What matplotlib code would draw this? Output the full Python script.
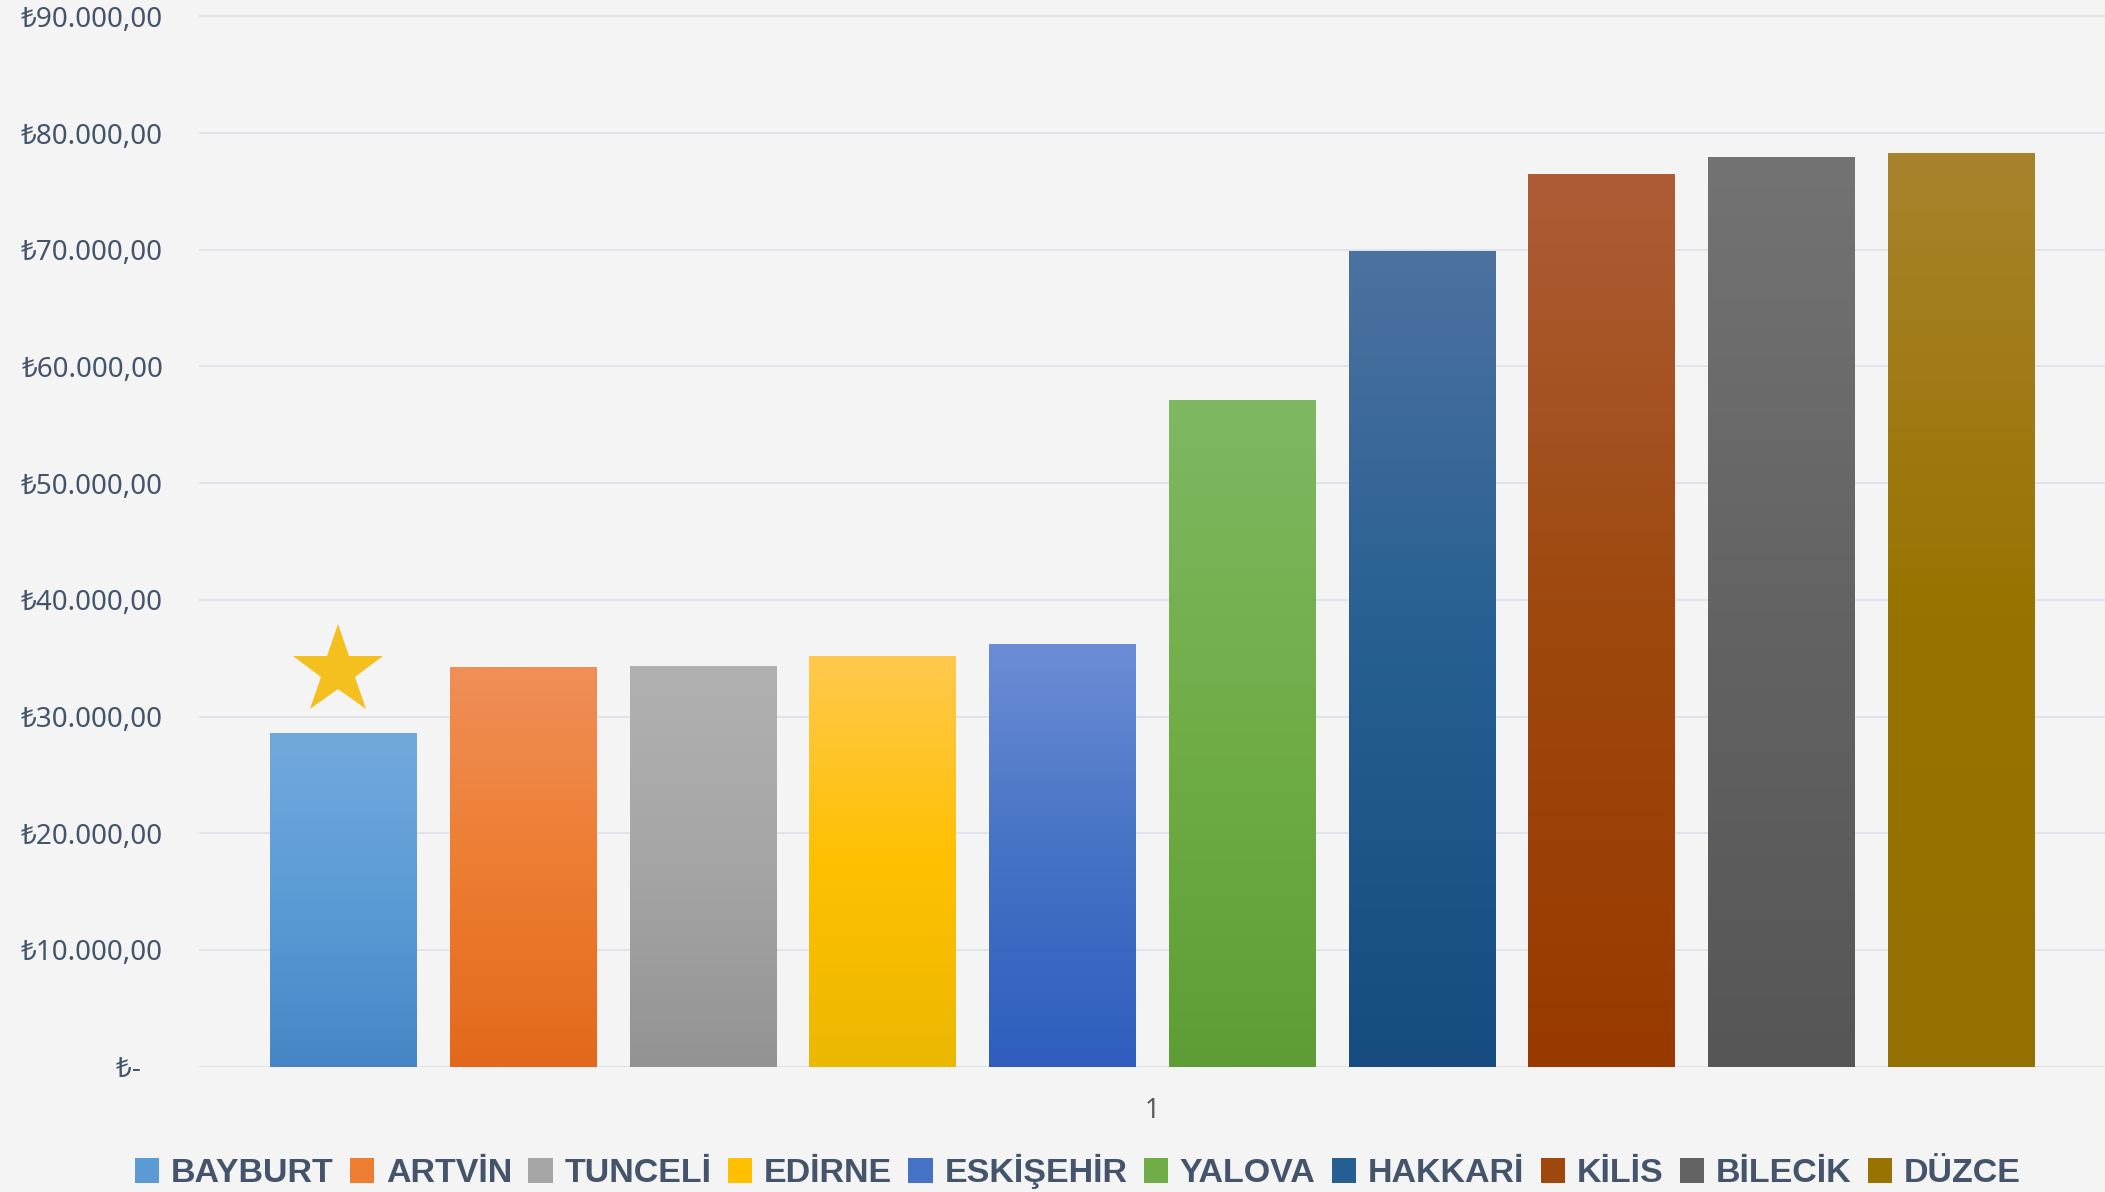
import matplotlib.pyplot as plt
import numpy as np
from matplotlib.colors import to_rgb
from matplotlib.font_manager import FontProperties

# data
cities = ['BAYBURT', 'ARTVİN', 'TUNCELİ', 'EDİRNE', 'ESKİŞEHİR',
          'YALOVA', 'HAKKARİ', 'KİLİS', 'BİLECİK', 'DÜZCE']
amounts = [28600, 34200, 34300, 35150, 36200, 57100, 69900, 76450, 77950, 78300]
category = ['1']
y_ticks = np.arange(0, 90001, 10000)

# gradient colours (top, base, bottom) per series
top_colors = ['#72A9DD', '#F08F58', '#B1B1B1', '#FFC94E', '#6C8DD6',
              '#7EB862', '#4C72A0', '#AD5C36', '#737373', '#A8832C']
base_colors = ['#5B9BD5', '#ED7D31', '#A5A5A5', '#FFC000', '#4472C4',
               '#70AD47', '#255E91', '#9E480E', '#636363', '#997300']
bottom_colors = ['#4686C6', '#E2691C', '#939393', '#EBB800', '#2F5DBE',
                 '#5E9D35', '#164C80', '#983A00', '#565656', '#937000']

bg = '#F4F4F4'
text_col = '#44546A'

fig = plt.figure(figsize=(21.05, 11.92), dpi=100, facecolor=bg)
ax = fig.add_axes([199 / 2105, 1 - 1066.7 / 1192, 1906 / 2105, 1066.7 / 1192])
ax.set_facecolor(bg)

n = len(cities)
pos = np.arange(n) - (n - 1) / 2
bar_w = 0.8125
bars = ax.bar(pos, amounts, width=bar_w, color=base_colors, label=cities, zorder=2)


def gradient(top, base, bottom, steps=256):
    t = np.linspace(0, 1, steps)[:, None]
    lo = np.array(to_rgb(bottom))
    mid = np.array(to_rgb(base))
    hi = np.array(to_rgb(top))
    out = np.where(t < 0.5, lo + (mid - lo) * (t / 0.5),
                   mid + (hi - mid) * ((t - 0.5) / 0.5))
    return out.reshape(steps, 1, 3)


for b, tc, bc, dc in zip(bars, top_colors, base_colors, bottom_colors):
    x0 = b.get_x()
    ax.imshow(gradient(tc, bc, dc), extent=[x0, x0 + b.get_width(), 0, b.get_height()],
              origin='lower', aspect='auto', zorder=3, interpolation='bilinear')

# star above the first bar
ax.plot(pos[0] - 0.03, amounts[0] + 5300, marker='*', ms=68, color='#F3C01E',
        markeredgewidth=0, zorder=4)

ax.set_xlim(-5.303, 5.303)
ax.set_ylim(0, 91405)
ax.set_yticks(y_ticks)


def tl(v):
    if v == 0:
        return '₺-   '
    s = f'{v:,.2f}'.replace(',', 'X').replace('.', ',').replace('X', '.')
    return '₺' + s


ax.set_yticklabels([tl(v) for v in y_ticks], fontsize=20, color=text_col,
                   family=['Noto Sans', 'DejaVu Sans'])
ax.set_xticks([0])
ax.set_xticklabels(category, fontsize=19, color='#595959',
                   family=['Noto Sans', 'DejaVu Sans'])
ax.tick_params(axis='y', length=0, pad=26)
ax.tick_params(axis='x', length=0, pad=22)

ax.grid(axis='y', color='#DCE1E8', lw=1.2)
ax.set_axisbelow(True)
for s in ax.spines.values():
    s.set_visible(False)

leg_font = FontProperties(family=['Liberation Sans', 'DejaVu Sans'],
                          weight='bold', size=24.5)
leg = fig.legend(handles=list(bars), labels=cities, loc='center', ncol=n,
                 bbox_to_anchor=(0.512, 0.017), frameon=False, prop=leg_font,
                 handlelength=0.72, handleheight=0.72, handletextpad=0.34,
                 columnspacing=0.48, borderpad=0, borderaxespad=0)
for t in leg.get_texts():
    t.set_color(text_col)

fig.savefig('out.png', dpi=100, facecolor=bg)
